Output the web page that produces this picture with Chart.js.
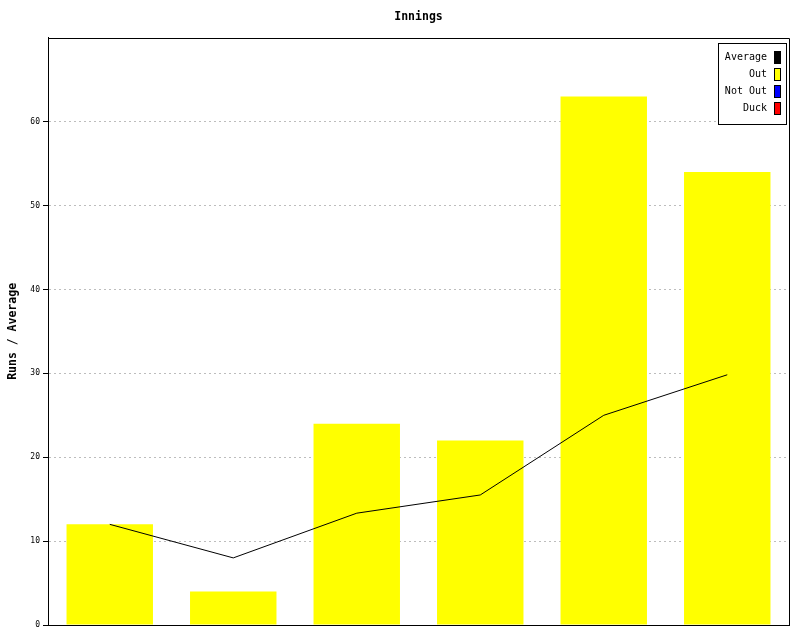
<!DOCTYPE html>
<html>
<head>
<meta charset="utf-8">
<title>Innings</title>
<script src="https://cdn.jsdelivr.net/npm/chart.js@4"></script>
<style>
    body { margin: 0; background: #ffffff; }
    #wrap { width: 800px; height: 640px; }
</style>
</head>
<body>
<div id="wrap"><canvas id="inningsChart" width="800" height="640"></canvas></div>
<script>
// innings data
const innings = ['1', '2', '3', '4', '5', '6'];
const outRuns = [12, 4, 24, 22, 63, 54];
const notOutRuns = [];
const duckRuns = [];
const average = [12, 8, 13.33, 15.5, 25, 29.83];
const yTicks = [0, 10, 20, 30, 40, 50, 60];

const MONO = '"DejaVu Sans Mono", "Liberation Mono", monospace';

// frame round the plot + boxed legend top right
const framePlugin = {
    id: 'frame',
    afterDraw(chart) {
        const ctx = chart.ctx;
        const a = chart.chartArea;
        ctx.save();
        ctx.strokeStyle = '#000000';
        ctx.lineWidth = 1;
        ctx.beginPath();
        ctx.moveTo(Math.round(a.left) + 0.5, Math.round(a.top) + 0.5);
        ctx.lineTo(Math.round(a.right) + 0.5, Math.round(a.top) + 0.5);
        ctx.lineTo(Math.round(a.right) + 0.5, Math.round(a.bottom) + 0.5);
        ctx.lineTo(Math.round(a.left) + 0.5, Math.round(a.bottom) + 0.5);
        ctx.closePath();
        ctx.stroke();

        // legend
        const items = chart.data.datasets;
        const boxRight = Math.round(a.right) - 3;
        const boxLeft = boxRight - 68;
        const boxTop = Math.round(a.top) + 5;
        const rowH = 17;
        const boxH = items.length * rowH + 13;
        ctx.fillStyle = '#ffffff';
        ctx.fillRect(boxLeft, boxTop, boxRight - boxLeft, boxH);
        ctx.strokeRect(boxLeft + 0.5, boxTop + 0.5, boxRight - boxLeft, boxH);
        ctx.font = '10px ' + MONO;
        ctx.textAlign = 'right';
        ctx.textBaseline = 'middle';
        items.forEach((ds, i) => {
            const y = boxTop + 14 + i * rowH;
            ctx.fillStyle = '#000000';
            ctx.fillText(ds.label, boxRight - 19, y);
            ctx.fillStyle = ds.legendColor;
            ctx.fillRect(boxRight - 12, y - 6, 6, 12);
            ctx.strokeRect(boxRight - 12 + 0.5, y - 6 + 0.5, 6, 12);
        });
        ctx.restore();
    }
};

const hideTop = (c, colour) => (c.tick && c.tick.value === 70 ? 'rgba(0,0,0,0)' : colour);

const ctx = document.getElementById('inningsChart').getContext('2d');
new Chart(ctx, {
    type: 'bar',
    data: {
        labels: innings,
        datasets: [
            {
                type: 'line',
                label: 'Average',
                data: average,
                borderColor: '#000000',
                borderWidth: 1,
                pointRadius: 0,
                tension: 0,
                order: 0,
                legendColor: '#000000'
            },
            {
                label: 'Out',
                data: outRuns,
                backgroundColor: '#ffff00',
                order: 1,
                legendColor: '#ffff00'
            },
            {
                label: 'Not Out',
                data: notOutRuns,
                backgroundColor: '#0000ff',
                order: 1,
                legendColor: '#0000ff'
            },
            {
                label: 'Duck',
                data: duckRuns,
                backgroundColor: '#ff0000',
                order: 1,
                legendColor: '#ff0000'
            }
        ]
    },
    options: {
        responsive: false,
        animation: false,
        datasets: {
            bar: { grouped: false, categoryPercentage: 1, barPercentage: 0.7 }
        },
        layout: { padding: { left: 0, right: 11, top: 0, bottom: 15 } },
        plugins: {
            legend: { display: false },
            tooltip: { enabled: false },
            title: {
                display: true,
                fullSize: false,
                text: 'Innings',
                color: '#000000',
                font: { family: MONO, size: 11.5, weight: 'bold' },
                padding: { top: 10, bottom: 14 }
            }
        },
        scales: {
            x: {
                ticks: { display: false },
                grid: { display: false },
                border: { display: true, color: '#000000' },
                afterFit: (scale) => { scale.height = 0; }
            },
            y: {
                min: 0,
                max: 70,
                afterFit: (scale) => { scale.width = 48; },
                afterBuildTicks: (scale) => {
                    scale.ticks = yTicks.concat([70]).map(v => ({ value: v }));
                },
                ticks: {
                    color: '#000000',
                    padding: 3,
                    font: { family: MONO, size: 8 },
                    callback: (v) => (yTicks.includes(v) ? v : '')
                },
                grid: {
                    color: (c) => hideTop(c, '#bdbdbd'),
                    tickColor: (c) => hideTop(c, '#000000'),
                    tickLength: 5
                },
                border: { color: '#000000', dash: [2, 3] },
                title: {
                    display: true,
                    text: 'Runs / Average',
                    color: '#000000',
                    font: { family: MONO, size: 11.5, weight: 'bold' },
                    padding: { top: 6, bottom: 0 }
                }
            }
        }
    },
    plugins: [framePlugin]
});
</script>
</body>
</html>
